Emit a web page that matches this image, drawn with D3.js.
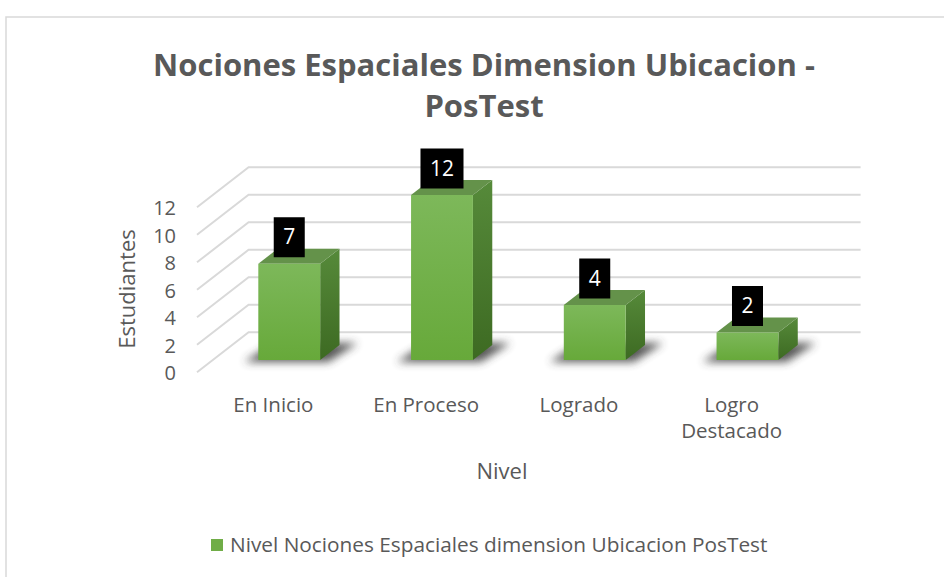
<!DOCTYPE html>
<html>
<head>
<meta charset="utf-8">
<script src="https://cdn.jsdelivr.net/npm/d3@7"></script>
<style>
  body { margin: 0; background: #fff; }
  text { font-family: "Open Sans", sans-serif; fill: #595959; }
</style>
</head>
<body>
<div id="chart"></div>
<script>
const categories = ['En Inicio', 'En Proceso', 'Logrado', 'Logro Destacado'];
const values = [7, 12, 4, 2];
const yTicks = [0, 2, 4, 6, 8, 10, 12];
const seriesName = 'Nivel Nociones Espaciales dimension Ubicacion PosTest';
const titleLines = ['Nociones Espaciales Dimension Ubicacion -', 'PosTest'];

const w = 944;
const h = 577;

// oblique "3D" depth: front plane -> back wall
const depthX = 51.6;
const depthY = -40;
const barZ0 = 0.3075;
const barZ1 = 0.6825;

const svg = d3.select('#chart')
  .append('svg')
  .attr('width', w)
  .attr('height', h);

const defs = svg.append('defs');

const frontGrad = defs.append('linearGradient')
  .attr('id', 'frontGrad').attr('x1', 0).attr('y1', 0).attr('x2', 0).attr('y2', 1);
frontGrad.append('stop').attr('offset', '0%').attr('stop-color', '#7db85a');
frontGrad.append('stop').attr('offset', '100%').attr('stop-color', '#67a93a');

const sideGrad = defs.append('linearGradient')
  .attr('id', 'sideGrad').attr('x1', 0).attr('y1', 0).attr('x2', 0).attr('y2', 1);
sideGrad.append('stop').attr('offset', '0%').attr('stop-color', '#568a3a');
sideGrad.append('stop').attr('offset', '100%').attr('stop-color', '#3d6a22');

defs.append('filter')
  .attr('id', 'blur')
  .attr('x', '-50%').attr('y', '-50%').attr('width', '200%').attr('height', '200%')
  .append('feGaussianBlur')
  .attr('stdDeviation', 4);

// chart area border
svg.append('rect')
  .attr('x', 6)
  .attr('y', 17)
  .attr('width', w + 10)
  .attr('height', h + 10)
  .attr('fill', '#fff')
  .attr('stroke', '#d9d9d9')
  .attr('stroke-width', 1.5);

const xScale = d3.scaleBand()
  .domain(categories)
  .range([197, 808]);

const yScale = d3.scaleLinear()
  .domain([0, 12])
  .range([372.3, 207.3]);

const proj = (px, v, z) => [px + z * depthX, yScale(v) + z * depthY];

// gridlines: side diagonal + back wall
const grid = svg.append('g').attr('class', 'grid');
yTicks.forEach((t) => {
  const a = proj(xScale.range()[0], t, 0);
  const b = proj(xScale.range()[0], t, 1);
  const c = proj(xScale.range()[1] + 1, t, 1);
  grid.append('path')
    .attr('d', d3.line()([a, b, c]))
    .attr('fill', 'none')
    .attr('stroke', '#d9d9d9')
    .attr('stroke-width', 2);
});

const yAxis = d3.axisLeft(yScale)
  .tickValues(yTicks)
  .tickSize(0)
  .tickPadding(0);

svg.append('g')
  .attr('id', 'y-axis')
  .attr('transform', 'translate(176,1)')
  .call(yAxis)
  .call((g) => g.select('.domain').remove())
  .selectAll('text')
  .style('font-family', '"Open Sans", sans-serif')
  .style('font-size', '20px')
  .attr('fill', '#595959');

const barW = xScale.bandwidth() * 0.405;
const bars = svg.append('g').attr('class', 'bars');

categories.forEach((c, i) => {
  const v = values[i];
  const cx = xScale(c) + xScale.bandwidth() / 2;
  const [xl, yTop] = proj(cx - barW / 2, v, barZ0);
  const [xr, yBot] = proj(cx + barW / 2, 0, barZ0);
  const ddx = (barZ1 - barZ0) * depthX;
  const ddy = (barZ1 - barZ0) * depthY;

  // soft floor shadow
  bars.append('path')
    .attr('d', d3.line()([
      [xl - 14, yBot + 2],
      [xr + 8, yBot + 2],
      [xr + ddx + 18, yBot + ddy - 2],
      [xl + ddx - 4, yBot + ddy - 2]
    ]) + 'Z')
    .attr('fill', '#3a3a3a')
    .attr('opacity', 0.85)
    .attr('filter', 'url(#blur)');

  // side face
  bars.append('path')
    .attr('d', d3.line()([
      [xr, yTop], [xr + ddx, yTop + ddy], [xr + ddx, yBot + ddy], [xr, yBot]
    ]) + 'Z')
    .attr('fill', 'url(#sideGrad)');

  // top face
  bars.append('path')
    .attr('d', d3.line()([
      [xl, yTop], [xr, yTop], [xr + ddx, yTop + ddy], [xl + ddx, yTop + ddy]
    ]) + 'Z')
    .attr('fill', '#64924a');

  // front face
  bars.append('rect')
    .attr('x', xl)
    .attr('y', yTop)
    .attr('width', xr - xl)
    .attr('height', yBot - yTop)
    .attr('fill', 'url(#frontGrad)');

  // data label
  const lbl = bars.append('g');
  const txt = lbl.append('text')
    .attr('x', (xl + xr) / 2)
    .attr('y', yTop - 6.5 - 20 + 7)
    .attr('text-anchor', 'middle')
    .style('font-size', '21px')
    .style('fill', '#fff')
    .text(v);
  const tw = txt.node().getComputedTextLength();
  lbl.insert('rect', 'text')
    .attr('x', (xl + xr) / 2 - (tw + 19) / 2)
    .attr('y', yTop - 6.5 - 40)
    .attr('width', tw + 19)
    .attr('height', 40)
    .attr('fill', '#000');
});

const xAxis = d3.axisBottom(xScale)
  .tickSize(0)
  .tickPadding(0);

const xg = svg.append('g')
  .attr('id', 'x-axis')
  .attr('transform', 'translate(0,0)')
  .call(xAxis)
  .call((g) => g.select('.domain').remove());

xg.selectAll('text')
  .style('font-family', '"Open Sans", sans-serif')
  .style('font-size', '20.5px')
  .attr('fill', '#595959')
  .attr('dy', null)
  .attr('y', 411.7)
  .each(function (d) {
    const el = d3.select(this);
    if (this.getComputedTextLength() > xScale.step() * 0.8) {
      const words = d.split(' ');
      el.text(null);
      words.forEach((wd, k) => {
        el.append('tspan')
          .attr('x', 0)
          .attr('dy', k === 0 ? 0 : 26.7)
          .text(wd);
      });
    }
  });

// axis titles
svg.append('text')
  .attr('transform', 'translate(135,289) rotate(-90)')
  .attr('text-anchor', 'middle')
  .style('font-size', '22px')
  .text('Estudiantes');

svg.append('text')
  .attr('x', 502)
  .attr('y', 479)
  .attr('text-anchor', 'middle')
  .style('font-size', '22px')
  .text('Nivel');

// title
svg.append('text')
  .attr('id', 'title')
  .attr('text-anchor', 'middle')
  .style('font-size', '31px')
  .style('font-weight', 'bold')
  .selectAll('tspan')
  .data(titleLines)
  .enter()
  .append('tspan')
  .attr('x', 484)
  .attr('y', (d, i) => 76 + i * 41)
  .text((d) => d);

// legend
const legend = svg.append('g').attr('id', 'legend');
legend.append('rect')
  .attr('x', 211)
  .attr('y', 539)
  .attr('width', 12)
  .attr('height', 12)
  .attr('fill', '#70ad47');
legend.append('text')
  .attr('x', 230)
  .attr('y', 551.5)
  .style('font-size', '20.8px')
  .text(seriesName);
</script>
</body>
</html>
